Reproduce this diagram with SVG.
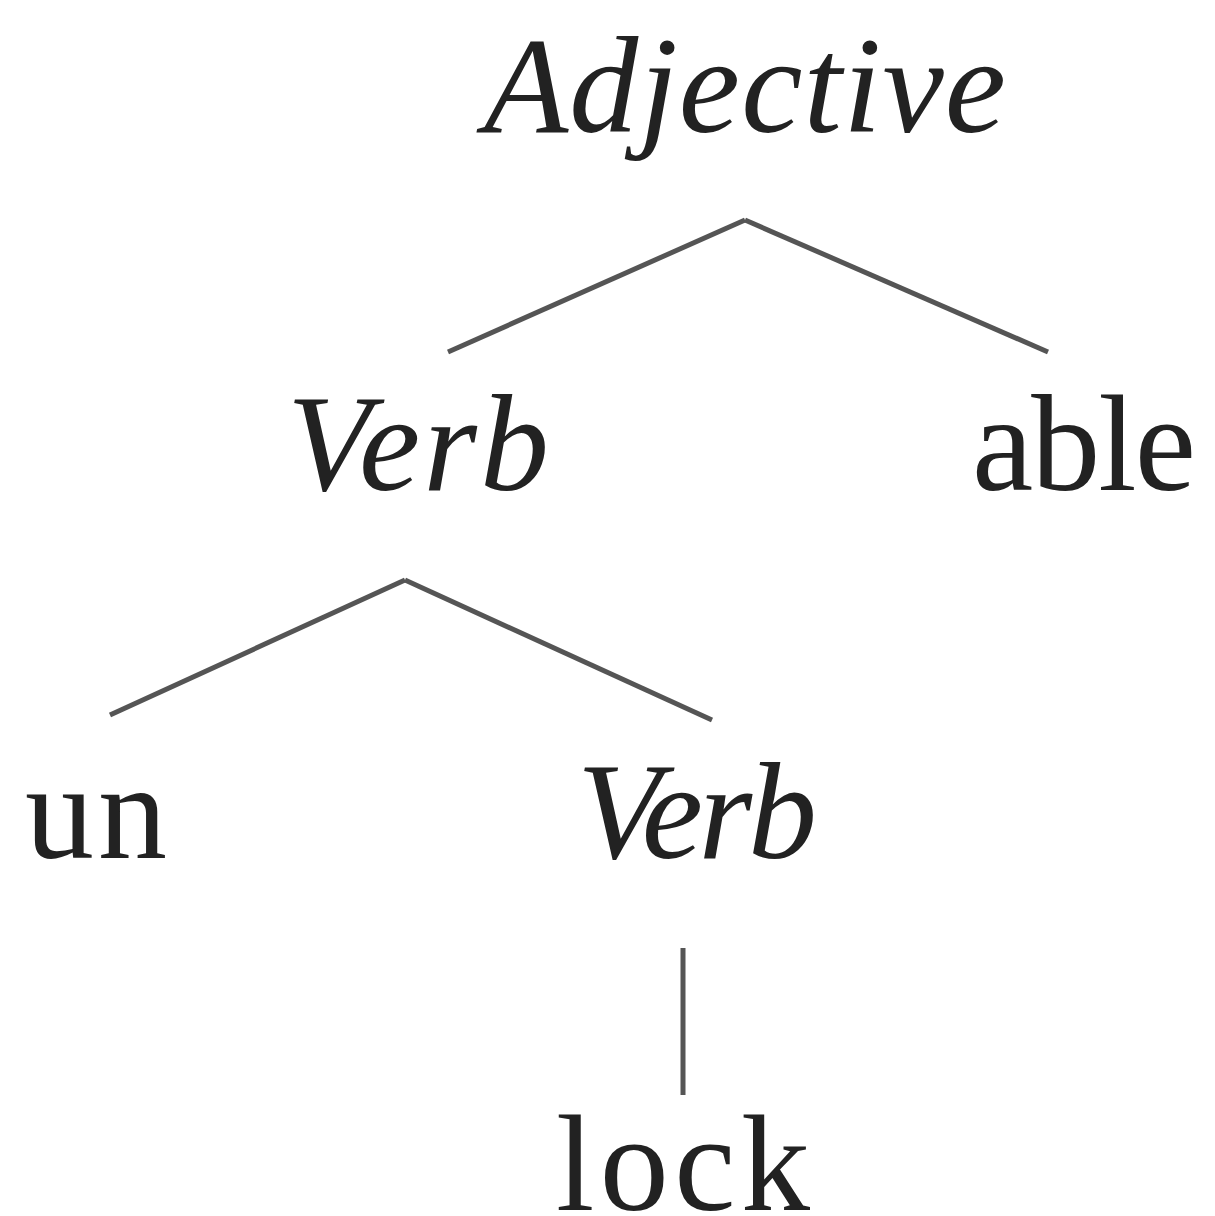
<svg xmlns="http://www.w3.org/2000/svg" width="1215" height="1216" viewBox="0 0 1215 1216">
<style>
text{font-family:"Liberation Serif","Times New Roman",serif;font-size:138px;fill:#222}
.it{font-style:italic}
.edge{stroke:#555;stroke-width:5;fill:none;stroke-linecap:butt}
</style>
<rect width="1215" height="1216" fill="#fff"/>
<g id="connectors">
<line class="edge" x1="745" y1="220" x2="448" y2="352"/>
<line class="edge" x1="745" y1="220" x2="1048" y2="352"/>
<line class="edge" x1="405" y1="580" x2="110" y2="715"/>
<line class="edge" x1="405" y1="580" x2="712" y2="720"/>
<line class="edge" x1="683" y1="948" x2="683" y2="1095"/>
</g>
<g id="adjective"><text class="it" x="745" y="132" text-anchor="middle" textLength="522">Adjective</text></g>
<g id="verb1"><text class="it" x="418" y="490" text-anchor="middle" textLength="262">Verb</text></g>
<g id="able"><text x="1084" y="490" text-anchor="middle" textLength="224">able</text></g>
<g id="un"><text x="96" y="858" text-anchor="middle" textLength="142">un</text></g>
<g id="verb2"><text class="it" x="697" y="858" text-anchor="middle" textLength="240">Verb</text></g>
<g id="lock"><text x="683" y="1210" text-anchor="middle" textLength="254">lock</text></g>
</svg>
